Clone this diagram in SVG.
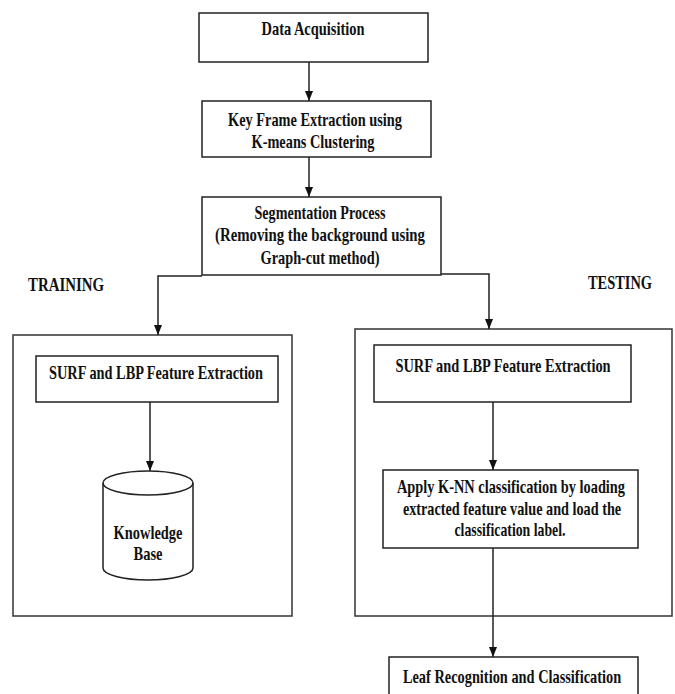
<svg xmlns="http://www.w3.org/2000/svg" width="675" height="694" viewBox="0 0 675 694">
<style>
.box{fill:#fff;stroke:#222;stroke-width:1.5}
.panel{fill:none;stroke:#333;stroke-width:1.5}
.t{font-family:"Liberation Serif","Times New Roman",serif;font-weight:bold;font-size:19px;fill:#111;text-anchor:middle}
.c{fill:none;stroke:#222;stroke-width:1.5}
</style>
<defs>
<marker id="ah" markerUnits="userSpaceOnUse" markerWidth="10" markerHeight="10" refX="10" refY="4" orient="auto">
<path d="M0,0 L10,4 L0,8 z" fill="#111"/>
</marker>
</defs>
<rect width="675" height="694" fill="#fff"/>
<g id="training-panel"><rect class="panel" x="13" y="335" width="279" height="281"/></g>
<g id="testing-panel"><rect class="panel" x="355" y="329" width="317" height="287"/></g>
<g id="connectors">
<path class="c" d="M309,62 L309,101" marker-end="url(#ah)"/>
<path class="c" d="M309,157 L309,197" marker-end="url(#ah)"/>
<path class="c" d="M202,276 L158,276 L158,335" marker-end="url(#ah)"/>
<path class="c" d="M441,274 L489,274 L489,329" marker-end="url(#ah)"/>
<path class="c" d="M150,402 L150,471" marker-end="url(#ah)"/>
<path class="c" d="M493,402 L493,470" marker-end="url(#ah)"/>
<path class="c" d="M493,548 L493,657" marker-end="url(#ah)"/>
</g>
<g id="data-acquisition">
<rect class="box" x="199" y="13" width="229" height="49"/>
<text class="t" x="313" y="35" textLength="103" lengthAdjust="spacingAndGlyphs">Data Acquisition</text>
</g>
<g id="key-frame">
<rect class="box" x="202" y="101" width="229" height="56"/>
<text class="t" x="315" y="126" textLength="174" lengthAdjust="spacingAndGlyphs">Key Frame Extraction using</text>
<text class="t" x="313" y="148" textLength="123" lengthAdjust="spacingAndGlyphs">K-means Clustering</text>
</g>
<g id="segmentation">
<rect class="box" x="202" y="197" width="239" height="78"/>
<text class="t" x="320" y="219" textLength="131" lengthAdjust="spacingAndGlyphs">Segmentation Process</text>
<text class="t" x="320" y="241" textLength="210" lengthAdjust="spacingAndGlyphs">(Removing the background using</text>
<text class="t" x="320" y="264" textLength="119" lengthAdjust="spacingAndGlyphs">Graph-cut method)</text>
</g>
<g id="training-label"><text class="t" x="66" y="291" textLength="76" lengthAdjust="spacingAndGlyphs">TRAINING</text></g>
<g id="testing-label"><text class="t" x="620" y="289" textLength="64" lengthAdjust="spacingAndGlyphs">TESTING</text></g>
<g id="train-surf">
<rect class="box" x="36" y="356" width="242" height="46"/>
<text class="t" x="156" y="379" textLength="214" lengthAdjust="spacingAndGlyphs">SURF and LBP Feature Extraction</text>
</g>
<g id="knowledge-base">
<path class="box" d="M103,483 A45,12 0 0,1 193,483 L193,568 A45,12 0 0,1 103,568 Z"/>
<path class="c" d="M103,483 A45,12 0 0,0 193,483"/>
<text class="t" x="148" y="539" textLength="69" lengthAdjust="spacingAndGlyphs">Knowledge</text>
<text class="t" x="148" y="560" textLength="29" lengthAdjust="spacingAndGlyphs">Base</text>
</g>
<g id="test-surf">
<rect class="box" x="374" y="345" width="257" height="57"/>
<text class="t" transform="translate(503,372) scale(0.75,1)" x="0" y="0" textLength="287" lengthAdjust="spacingAndGlyphs">SURF and LBP Feature Extraction</text>
</g>
<g id="knn">
<rect class="box" x="383" y="470" width="255" height="78"/>
<text class="t" transform="translate(511,493) scale(0.75,1)" x="0" y="0" textLength="304" lengthAdjust="spacingAndGlyphs">Apply K-NN classification by loading</text>
<text class="t" transform="translate(512,515) scale(0.75,1)" x="0" y="0" textLength="291" lengthAdjust="spacingAndGlyphs">extracted feature value and load the</text>
<text class="t" x="510" y="536" textLength="111" lengthAdjust="spacingAndGlyphs">classification label.</text>
</g>
<g id="leaf">
<rect class="box" x="389" y="657" width="249" height="50"/>
<text class="t" transform="translate(512,683) scale(0.75,1)" x="0" y="0" textLength="291" lengthAdjust="spacingAndGlyphs">Leaf Recognition and Classification</text>
</g>
</svg>
